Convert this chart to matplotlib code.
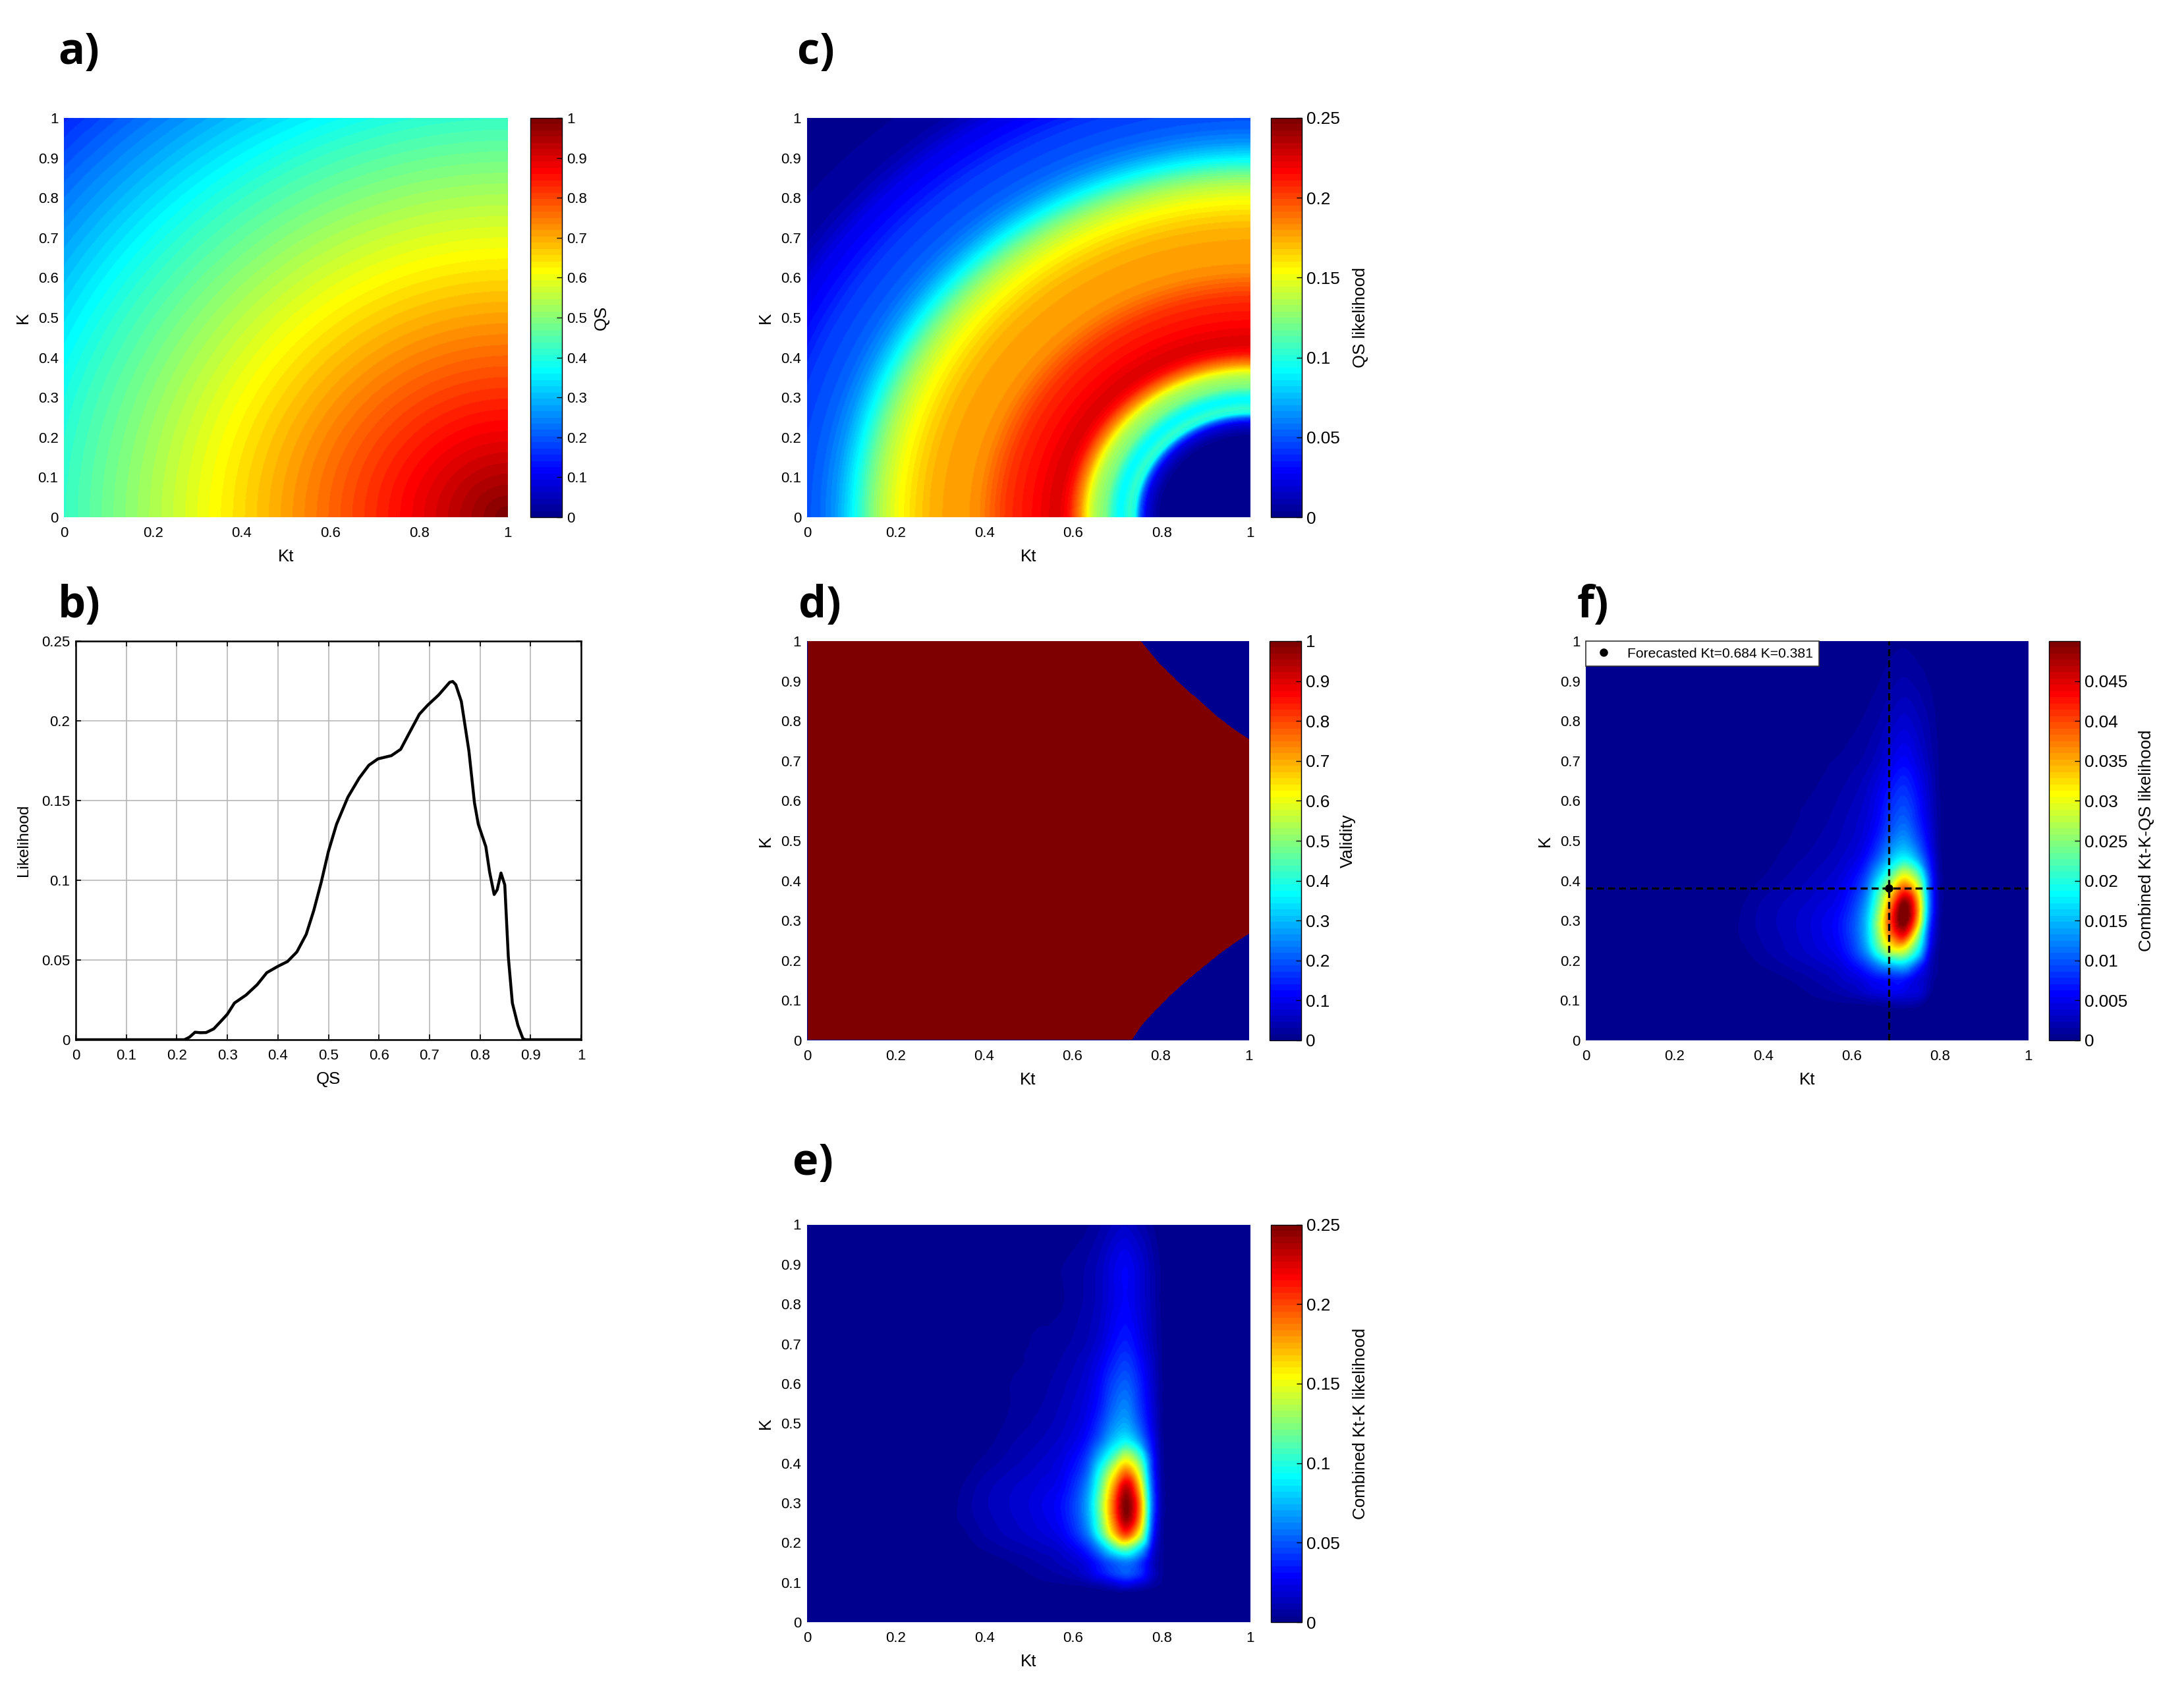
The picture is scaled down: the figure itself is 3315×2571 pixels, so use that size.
import numpy as np
import matplotlib
matplotlib.use("Agg")
import matplotlib.pyplot as plt
from matplotlib.colors import LinearSegmentedColormap
from matplotlib.tri import Triangulation, CubicTriInterpolator

plt.rcParams['font.family'] = ['Liberation Sans', 'DejaVu Sans']

W, H = 3316, 2571
DPI = 200

# QS read along the distance from the corner Kt=1, K=0 (panel a)
DIST_FROM_CORNER = [0, 0.2, 0.4, 0.6, 0.8, 1.0, 1.2, 1.415]
QS_AT_DIST = [1.0, 0.884, 0.768, 0.652, 0.536, 0.42, 0.285, 0.15]

# Panel b curve
QS_CURVE = [0, 0.1, 0.2, 0.215, 0.225, 0.236, 0.247, 0.258, 0.273, 0.287, 0.30, 0.314, 0.337, 0.359,
            0.378, 0.40, 0.419, 0.4375, 0.456, 0.471, 0.486, 0.50, 0.516, 0.5385, 0.561, 0.58, 0.598,
            0.6245, 0.643, 0.658, 0.68, 0.696, 0.718, 0.74, 0.746, 0.752, 0.763, 0.778, 0.789, 0.7966,
            0.8115, 0.819, 0.828, 0.834, 0.8415, 0.849, 0.856, 0.864, 0.875, 0.885, 0.89, 0.95, 1.0]
LIKELIHOOD = [0, 0, 0, 0, 0.0016, 0.0047, 0.0044, 0.0045, 0.0068, 0.0115, 0.016, 0.023, 0.028, 0.0345,
              0.042, 0.046, 0.049, 0.055, 0.066, 0.081, 0.099, 0.118, 0.135, 0.152, 0.164, 0.172, 0.176,
              0.178, 0.182, 0.191, 0.204, 0.2095, 0.216, 0.224, 0.2245, 0.2225, 0.212, 0.181, 0.1485, 0.135,
              0.121, 0.105, 0.091, 0.094, 0.1045, 0.097, 0.052, 0.023, 0.009, 0.0006, 0, 0, 0]

# Panel d validity boundaries
LOWER_KT = [0.735, 0.7575, 0.782, 0.817, 0.857, 0.897, 0.936, 0.976, 1.0]
LOWER_K = [0.0, 0.037, 0.067, 0.106, 0.147, 0.183, 0.218, 0.249, 0.266]
UPPER_KT = [0.755, 0.797, 0.8395, 0.882, 0.9265, 0.966, 1.0]
UPPER_K = [1.0, 0.944, 0.898, 0.856, 0.812, 0.779, 0.754]

# Panel e table, in thousandths of likelihood
E_KT = [0.30, 0.34, 0.40, 0.46, 0.52, 0.58, 0.63, 0.66, 0.69, 0.72, 0.75, 0.78, 0.80, 0.82, 0.85]
E_K = [0, 0.07, 0.09, 0.12, 0.15, 0.18, 0.22, 0.26, 0.30, 0.34, 0.38, 0.42, 0.46, 0.50,
       0.55, 0.60, 0.65, 0.70, 0.80, 0.90, 1.0]
E_TABLE = [
    [0, 0, 0, 0, 0, 0, 0, 0, 0, 0, 0, 0, 0, 0, 0],
    [0, 0, 0, 0, 0, 0, 0, 0, 0, 0, 0, 0, 0, 0, 0],
    [0, 0, 0, 0, 2, 3, 5, 8, 14, 20, 14, 6, 3, 1, 0],
    [0, 0, 0, 2, 5, 9, 18, 30, 42, 50, 40, 16, 5, 1, 0],
    [0, 0, 0, 4, 8, 14, 24, 38, 52, 60, 46, 16, 5, 1, 0],
    [0, 0, 4, 8, 12, 19, 36, 60, 92, 110, 80, 24, 6, 1, 0],
    [0, 2, 8, 13, 18, 28, 56, 100, 160, 200, 150, 40, 7, 1, 0],
    [0, 4, 10, 15, 21, 33, 66, 115, 185, 242, 185, 50, 9, 1, 0],
    [0, 4, 11, 16, 22, 34, 68, 120, 190, 248, 190, 55, 10, 2, 0],
    [0, 3, 10, 15, 20, 30, 62, 110, 175, 230, 170, 50, 9, 2, 0],
    [0, 1, 7, 12, 17, 26, 52, 95, 145, 185, 140, 42, 8, 2, 0],
    [0, 0, 4, 9, 14, 22, 42, 72, 105, 135, 105, 36, 7, 2, 0],
    [0, 0, 2, 7, 11, 18, 32, 52, 76, 88, 66, 28, 6, 1, 0],
    [0, 0, 1, 5, 9, 15, 26, 42, 62, 70, 50, 22, 5, 1, 0],
    [0, 0, 1, 4, 7, 13, 22, 34, 52, 60, 42, 19, 5, 1, 0],
    [0, 0, 1, 4, 6, 11, 19, 30, 45, 52, 38, 17, 5, 1, 0],
    [0, 0, 0, 3, 5, 9, 16, 25, 37, 44, 32, 15, 4, 1, 0],
    [0, 0, 0, 1, 5, 7, 12, 19, 30, 36, 26, 12, 4, 1, 0],
    [0, 0, 0, 0, 2, 4, 9, 14, 23, 28, 20, 10, 3, 1, 0],
    [0, 0, 0, 0, 2, 4, 8, 13, 22, 27, 19, 9, 3, 0, 0],
    [0, 0, 0, 0, 0, 0, 3, 7, 12, 15, 10, 4, 1, 0, 0],
]
F_SCALE = 0.97  # panel f peak relative to the product of panels c and e
FORECAST_KT = 0.684
FORECAST_K = 0.381

TICKS_01 = [0, 0.1, 0.2, 0.3, 0.4, 0.5, 0.6, 0.7, 0.8, 0.9, 1]
TICKS_02 = [0, 0.2, 0.4, 0.6, 0.8, 1]
TICKS_25 = [0, 0.05, 0.1, 0.15, 0.2, 0.25]
TICKS_F = [0, 0.005, 0.01, 0.015, 0.02, 0.025, 0.03, 0.035, 0.04, 0.045]

jet = LinearSegmentedColormap.from_list(
    'matlab_jet',
    [(0, (0, 0, 0.5625)), (0.1111, (0, 0, 1)), (0.365, (0, 1, 1)),
     (0.6190, (1, 1, 0)), (0.873, (1, 0, 0)), (1, (0.5, 0, 0))], N=64)

fig = plt.figure(figsize=(W / DPI, H / DPI), dpi=DPI)


def px_axes(x0, x1, y0, y1):
    return fig.add_axes([x0 / W, 1 - y1 / H, (x1 - x0) / W, (y1 - y0) / H])


def fmt(v):
    return f'{v:g}'


def style_axes(ax, xt, yt, xl, yl, ylab_dx):
    w = ax.get_position().width * W
    h = ax.get_position().height * H
    ax.set_xlim(0, 1)
    ax.set_ylim(0, 1 if yt is TICKS_01 else yt[-1])
    ax.set_xticks(xt, [fmt(v) for v in xt])
    ax.set_yticks(yt, [fmt(v) for v in yt])
    ax.tick_params(labelsize=8.0, length=0, pad=3.2)
    ax.tick_params(axis='x', pad=5.2)
    ax.set_xlabel(xl, fontsize=9.3)
    ax.set_ylabel(yl, fontsize=9.3)
    ax.xaxis.set_label_coords(0.5, -60 / h, transform=ax.transAxes)
    ax.xaxis.label.set_va('center')
    ax.yaxis.set_label_coords(-ylab_dx / w, 0.5, transform=ax.transAxes)
    ax.yaxis.label.set_va('center')


def heat(rect, cbrect, field, vmax, cbticks, cblabel, label_x, cb_fs=9.4):
    ax = px_axes(*rect)
    im = ax.imshow(field, origin='lower', extent=[0, 1, 0, 1], cmap=jet, vmin=0, vmax=vmax,
                   aspect='auto', interpolation='bilinear')
    style_axes(ax, TICKS_02, TICKS_01, 'Kt', 'K', 63)
    for s in ax.spines.values():
        s.set_visible(False)
    cax = px_axes(cbrect[0], cbrect[1], rect[2], rect[3])
    cb = fig.colorbar(im, cax=cax)
    cb.set_ticks(cbticks, labels=[fmt(v) for v in cbticks])
    cb.ax.tick_params(labelsize=cb_fs, length=3, width=0.5, direction='in', pad=2.5, color='black')
    cb.outline.set_linewidth(0.5)
    cb.set_label(cblabel, fontsize=9.3)
    cw = cbrect[1] - cbrect[0]
    cax.yaxis.set_label_coords((label_x - cbrect[0]) / cw, 0.5, transform=cax.transAxes)
    cax.yaxis.label.set_va('center')
    return ax


# Fields
n = 600
kt = np.linspace(0, 1, n)
k = np.linspace(0, 1, n)
KT, KK = np.meshgrid(kt, k)
qs = np.interp(np.hypot(1 - KT, KK), DIST_FROM_CORNER, QS_AT_DIST)
c_field = np.interp(qs, QS_CURVE, LIKELIHOOD)

low = np.interp(KT, LOWER_KT, LOWER_K, left=-1)
up = np.interp(KT, UPPER_KT, UPPER_K, left=2)
validity = ((KK > low) & (KK < up)).astype(float)
validity[0, :] = 0
validity[:, 0] = 0

gx, gy = np.meshgrid(E_KT, E_K)
tri = Triangulation(gx.ravel(), gy.ravel())
interp = CubicTriInterpolator(tri, np.array(E_TABLE, float).ravel() / 1000.0, kind='geom')
e_field = np.ma.filled(interp(KT, KK), 0.0)
e_field = np.clip(e_field, 0, None)
f_field = e_field * c_field * validity * F_SCALE

# a
heat((97.5, 771, 179, 785), (805.5, 853), qs, 1.0, TICKS_01, 'QS', 913, cb_fs=8.0)
# c
heat((1225, 1898, 179, 785), (1929, 1976.5), c_field, 0.25, TICKS_25, 'QS likelihood', 2065)
# d
heat((1225, 1896, 973, 1579), (1927, 1975), validity, 1.0, TICKS_01, 'Validity', 2046)
# e
heat((1225, 1898, 1858.5, 2462), (1929, 1976.5), e_field, 0.25, TICKS_25, 'Combined Kt-K likelihood', 2065)
# f
axf = heat((2407.5, 3079, 973, 1579), (3110, 3157), f_field, 0.05, TICKS_F,
           'Combined Kt-K-QS likelihood', 3258)
axf.axvline(FORECAST_KT, color='black', ls=(0, (3.2, 1.8)), lw=1.2)
axf.axhline(FORECAST_K, color='black', ls=(0, (3.2, 1.8)), lw=1.2)
axf.plot([FORECAST_KT], [FORECAST_K], 'o', color='black', ms=3.5,
         label=f'Forecasted Kt={FORECAST_KT:.3f} K={FORECAST_K:.3f}')
leg = axf.legend(loc='upper left', bbox_to_anchor=(0, 1), borderaxespad=0, fontsize=7.6,
                 frameon=True, fancybox=False, framealpha=1, edgecolor='#333333',
                 handlelength=1.6, handletextpad=0.9, borderpad=0.45, numpoints=1)
leg.get_frame().set_linewidth(0.6)

# b
axb = px_axes(115, 882, 972.5, 1578)
axb.plot(QS_CURVE, LIKELIHOOD, color='black', lw=1.6, solid_joinstyle='round')
style_axes(axb, TICKS_01, TICKS_25, 'QS', 'Likelihood', 79)
axb.yaxis.label.set_fontsize(8.8)
axb.grid(True, color='#b8b8b8', lw=0.6)
axb.set_axisbelow(True)
axb.tick_params(length=3, width=0.6, direction='in', top=True, right=True, color='black')
for s in axb.spines.values():
    s.set_linewidth(0.9)

# Panel letters
PANEL_LETTERS = ['a)', 'c)', 'b)', 'd)', 'f)', 'e)']
LETTER_X = [88, 1210, 88, 1212, 2394, 1203]
LETTER_Y = [79, 79, 920, 920, 920, 1766]
for t, x, y in zip(PANEL_LETTERS, LETTER_X, LETTER_Y):
    fig.text(x / W, 1 - y / H, t, fontsize=24, fontweight='bold', family=['Open Sans', 'DejaVu Sans'],
             ha='left', va='center')

fig.savefig('out.png', dpi=DPI)
